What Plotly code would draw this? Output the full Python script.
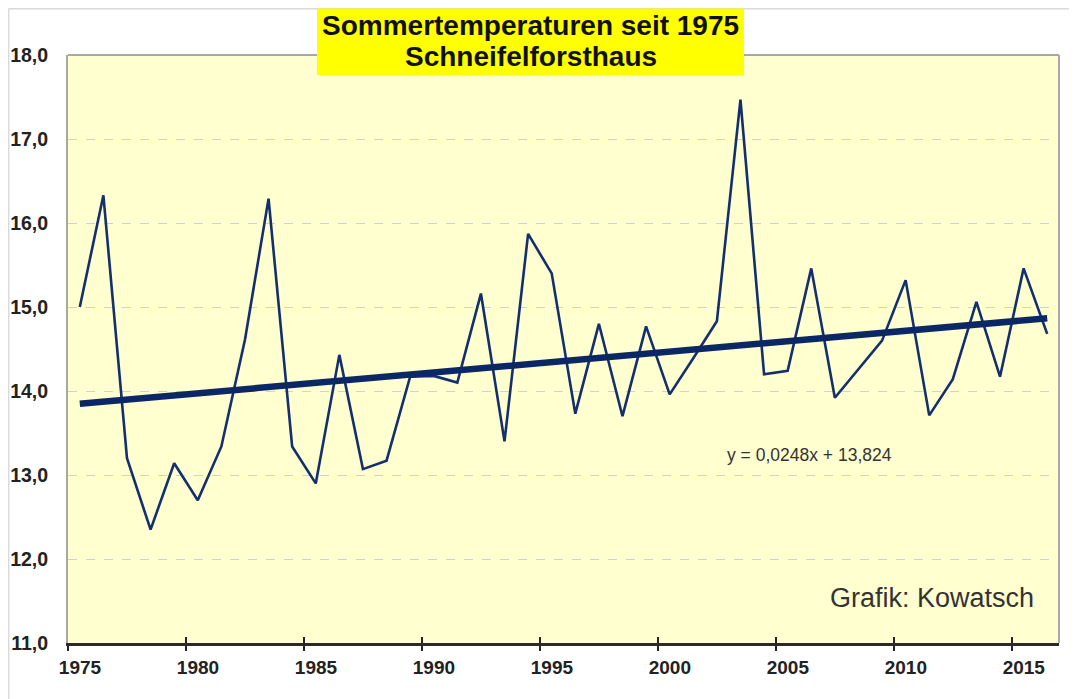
import plotly.graph_objects as go

# ---- data ----
years = list(range(1975, 2017))
temps = [15.00, 16.33, 13.20, 12.35, 13.14, 12.70, 13.34, 14.61, 16.29, 13.34,
         12.90, 14.43, 13.07, 13.17, 14.17, 14.18, 14.10, 15.16, 13.40, 15.87,
         15.40, 13.73, 14.80, 13.70, 14.77, 13.96, 14.39, 14.83, 17.47, 14.20,
         14.24, 15.46, 13.92, 14.26, 14.60, 15.32, 13.71, 14.14, 15.06, 14.17,
         15.46, 14.68]
trend_slope = 0.0248
trend_intercept = 13.824
x_label_years = [1975, 1980, 1985, 1990, 1995, 2000, 2005, 2010, 2015]
x_tick_text = [str(y) for y in x_label_years]
y_tick_vals = [11, 12, 13, 14, 15, 16, 17, 18]
y_tick_text = ["11,0", "12,0", "13,0", "14,0", "15,0", "16,0", "17,0", "18,0"]
title_lines = ["Sommertemperaturen seit 1975", "Schneifelforsthaus"]
equation_text = "y = 0,0248x + 13,824"
credit_text = "Grafik: Kowatsch"

# trend line endpoints from the chart's stated equation (x = 1 for first year)
trend_x = [years[0], years[-1]]
trend_y = [trend_slope * 1 + trend_intercept,
           trend_slope * len(years) + trend_intercept]

# page has an 8px body margin: figure origin sits at (8, 8) of the window
OFF = 8
PL, PT, PW, PH = 68, 55, 991, 588          # plot area in window pixels
W, H = 1077 - OFF, 699 - OFF
L, T = PL - OFF, PT - OFF
R = W - L - PW
B = H - T - PH


def px(x):
    return (x - PL) / PW


def py(y):
    return (PT + PH - y) / PH


navy = "#132F6E"
fig = go.Figure()
fig.add_trace(go.Scatter(x=years, y=temps, mode="lines",
                         line=dict(color=navy, width=2.6), hoverinfo="skip",
                         showlegend=False))
fig.add_trace(go.Scatter(x=trend_x, y=trend_y, mode="lines",
                         line=dict(color="#0C2766", width=6.5), hoverinfo="skip",
                         showlegend=False))
# invisible trace for overlay axis (inside tick marks)
fig.add_trace(go.Scatter(x=trend_x, y=trend_y, xaxis="x2", mode="lines",
                         line=dict(width=0), opacity=0, hoverinfo="skip",
                         showlegend=False))

xr = [years[0] - 0.5, years[-1] + 0.5]
tick_pos = [y - 0.5 for y in x_label_years]

fig.update_layout(
    width=W, height=H, autosize=False,
    margin=dict(l=L, r=R, t=T, b=B),
    paper_bgcolor="white",
    plot_bgcolor="#FFFFD0",
    font=dict(family="Liberation Sans, Arial, sans-serif", color="#222"),
    xaxis=dict(range=xr, tickmode="array", tickvals=tick_pos, ticktext=x_tick_text,
               ticks="outside", ticklen=5, tickwidth=2, tickcolor="#222",
               ticklabelshift=12, ticklabelstandoff=0,
               showline=True, linecolor="#2a2a2a", linewidth=2.5,
               showgrid=False, zeroline=False, automargin=False,
               tickfont=dict(size=19, weight="bold", color="#222")),
    xaxis2=dict(range=xr, overlaying="x", anchor="y", tickmode="array",
                tickvals=tick_pos, ticks="inside", ticklen=6, tickwidth=2,
                tickcolor="#222", showticklabels=False, showgrid=False,
                zeroline=False, showline=False),
    yaxis=dict(range=[11, 18], tickmode="array", tickvals=y_tick_vals,
               ticktext=y_tick_text, ticks="", ticklabelstandoff=14,
               showline=True, linecolor="#A8A8A8", linewidth=2,
               showgrid=True, gridcolor="#CFCFE2", griddash="dash", gridwidth=1,
               zeroline=False, automargin=False,
               tickfont=dict(size=19.5, weight="bold", color="#222")),
    shapes=[
        # outer frame
        dict(type="line", xref="paper", yref="paper", x0=px(8.5), x1=px(1076),
             y0=py(8.7), y1=py(8.7), line=dict(color="#DADADA", width=1.5)),
        dict(type="line", xref="paper", yref="paper", x0=px(8.7), x1=px(8.7),
             y0=py(8.5), y1=py(705), line=dict(color="#DADADA", width=1.5)),
        # plot border top/right
        dict(type="line", xref="paper", yref="paper", x0=0, x1=1, y0=1, y1=1,
             line=dict(color="#A8A8A8", width=2), layer="above"),
        dict(type="line", xref="paper", yref="paper", x0=1, x1=1, y0=0, y1=1,
             line=dict(color="#A8A8A8", width=2), layer="above"),
        # title box
        dict(type="rect", xref="paper", yref="paper", x0=px(317), x1=px(744),
             y0=py(75), y1=py(8.5), fillcolor="#FFFF00", line=dict(width=0),
             layer="above"),
    ],
    annotations=[
        dict(text=title_lines[0], xref="paper", yref="paper", x=px(530.5),
             y=py(25), xanchor="center", yanchor="middle", showarrow=False,
             font=dict(size=28, weight="bold", color="#111")),
        dict(text=title_lines[1], xref="paper", yref="paper", x=px(530.5),
             y=py(56.5), xanchor="center", yanchor="middle", showarrow=False,
             font=dict(size=28, weight="bold", color="#111")),
        dict(text=equation_text, xref="paper", yref="paper", x=px(725),
             y=py(455), xanchor="left", yanchor="middle", showarrow=False,
             font=dict(size=17.5, color="#333")),
        dict(text=credit_text, xref="paper", yref="paper", x=px(1036),
             y=py(598), xanchor="right", yanchor="middle", showarrow=False,
             font=dict(size=27, color="#333")),
    ],
)

fig.write_html("out.html")
